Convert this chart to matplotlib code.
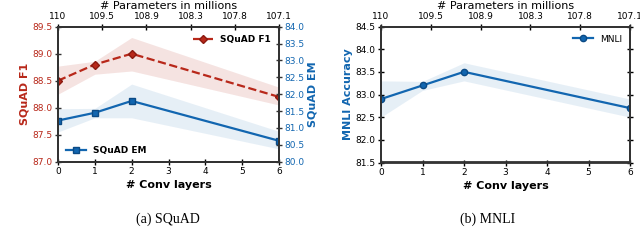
import matplotlib
matplotlib.use("Agg")
import matplotlib.pyplot as plt

# data
conv_layers = [0, 1, 2, 6]
param_ticks = ["110", "109.5", "108.9", "108.3", "107.8", "107.1"]

squad_f1 = [88.5, 88.8, 89.0, 88.2]
squad_f1_lo = [88.25, 88.62, 88.68, 88.05]
squad_f1_hi = [88.77, 88.86, 89.3, 88.38]

squad_em = [81.22, 81.45, 81.8, 80.62]
squad_em_lo = [80.88, 81.3, 81.3, 80.38]
squad_em_hi = [81.57, 81.58, 82.3, 80.9]

mnli = [82.9, 83.2, 83.5, 82.7]
mnli_lo = [82.5, 83.09, 83.3, 82.5]
mnli_hi = [83.3, 83.29, 83.7, 82.9]

RED = "#b8281a"
BLUE = "#1266b0"

plt.rcParams["font.family"] = "DejaVu Sans"
plt.rcParams["font.size"] = 6.5
plt.rcParams["axes.edgecolor"] = "#333333"
plt.rcParams["axes.linewidth"] = 1.3

fig = plt.figure(figsize=(6.4, 2.46), dpi=100)
ax1 = fig.add_axes([58 / 640, 1 - 161.7 / 246, 221 / 640, 135 / 246])
ax3 = fig.add_axes([381 / 640, 1 - 162.5 / 246, 249 / 640, 136 / 246])


def style_ticks(ax):
    ax.tick_params(direction="inout", length=5, width=1, pad=1.5, labelsize=6.5)


# --- SQuAD ---
ax1.fill_between(conv_layers, squad_f1_lo, squad_f1_hi, color=RED, alpha=0.13, lw=0)
l1, = ax1.plot(conv_layers, squad_f1, "--", color=RED, lw=1.6, marker="D",
               ms=4.5, mec="#8b1a10", label="SQuAD F1")
ax1.set_xlim(0, 6)
ax1.set_ylim(87.0, 89.5)
ax1.set_yticks([87.0, 87.5, 88.0, 88.5, 89.0, 89.5])
ax1.set_ylabel("SQuAD F1", color=RED, fontweight="bold", fontsize=8, labelpad=2)
ax1.set_xlabel("# Conv layers", fontweight="bold", fontsize=8, labelpad=3)
style_ticks(ax1)
ax1.tick_params(axis="y", colors="#333333", labelcolor=RED)

ax2 = ax1.twinx()
ax2.fill_between(conv_layers, squad_em_lo, squad_em_hi, color=BLUE, alpha=0.1, lw=0)
l2, = ax2.plot(conv_layers, squad_em, "-", color=BLUE, lw=1.6, marker="s",
               ms=4.5, mec="#0b4a85", label="SQuAD EM")
ax2.set_ylim(80.0, 84.0)
ax2.set_yticks([80.0, 80.5, 81.0, 81.5, 82.0, 82.5, 83.0, 83.5, 84.0])
ax2.set_ylabel("SQuAD EM", color=BLUE, fontweight="bold", fontsize=8, labelpad=2)
style_ticks(ax2)
ax2.tick_params(axis="y", colors="#333333", labelcolor=BLUE)

ax1.legend(handles=[l1], loc="upper right", frameon=False,
           prop={"weight": "bold", "size": 6.5}, handlelength=2.2)
ax2.legend(handles=[l2], loc="lower left", frameon=False,
           prop={"weight": "bold", "size": 6.5}, handlelength=2.2,
           bbox_to_anchor=(0.0, -0.01))

top1 = ax1.twiny()
top1.set_xlim(0, 6)
top1.set_xticks([0, 1.2, 2.4, 3.6, 4.8, 6])
top1.set_xticklabels(param_ticks)
top1.set_xlabel("# Parameters in millions", fontsize=8, labelpad=2)
style_ticks(top1)

# --- MNLI ---
ax3.fill_between(conv_layers, mnli_lo, mnli_hi, color=BLUE, alpha=0.1, lw=0)
ax3.plot(conv_layers, mnli, "-", color=BLUE, lw=1.6, marker="o", ms=4.5,
         mec="#0b4a85", label="MNLI")
ax3.set_xlim(0, 6)
ax3.set_ylim(81.5, 84.5)
ax3.set_yticks([81.5, 82.0, 82.5, 83.0, 83.5, 84.0, 84.5])
ax3.set_ylabel("MNLI Accuracy", color=BLUE, fontweight="bold", fontsize=8, labelpad=2)
ax3.set_xlabel("# Conv layers", fontweight="bold", fontsize=8, labelpad=3)
style_ticks(ax3)
ax3.tick_params(axis="y", right=True, labelright=False)
ax3.legend(loc="upper right", frameon=False, prop={"size": 6.5}, handlelength=2.2)

top3 = ax3.twiny()
top3.set_xlim(0, 6)
top3.set_xticks([0, 1.2, 2.4, 3.6, 4.8, 6])
top3.set_xticklabels(param_ticks)
top3.set_xlabel("# Parameters in millions", fontsize=8, labelpad=2)
style_ticks(top3)

fig.text(168 / 640, 1 - 219 / 246, "(a) SQuAD", ha="center", va="center",
         family="Liberation Serif", fontsize=10)
fig.text(488 / 640, 1 - 219 / 246, "(b) MNLI", ha="center", va="center",
         family="Liberation Serif", fontsize=10)

fig.savefig("out.png", dpi=100)
